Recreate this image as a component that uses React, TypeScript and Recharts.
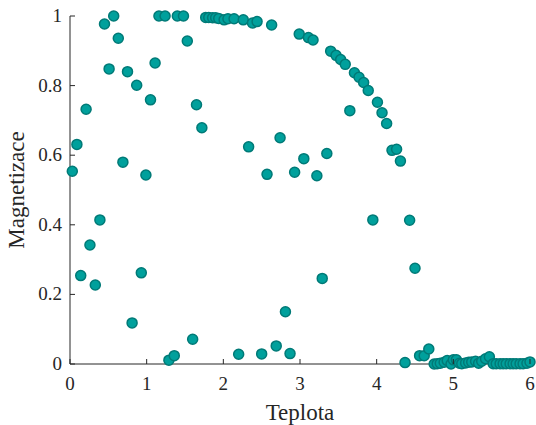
import { Scatter, ScatterChart, XAxis, YAxis } from "recharts";

const temperature = [
  0.03, 0.09, 0.14, 0.21, 0.26, 0.33, 0.39, 0.45, 0.51, 0.57, 0.63, 0.69, 0.75,
  0.81, 0.87, 0.93, 0.99, 1.05, 1.11, 1.16, 1.24, 1.29, 1.36, 1.4, 1.48, 1.53,
  1.6, 1.65, 1.72, 1.77, 1.81, 1.86, 1.9, 1.94, 2.01, 2.06, 2.14, 2.2, 2.26,
  2.33, 2.38, 2.44, 2.5, 2.57, 2.63, 2.69, 2.74, 2.81, 2.87, 2.93, 2.99, 3.05,
  3.11, 3.17, 3.22, 3.29, 3.35, 3.4, 3.47, 3.53, 3.59, 3.65, 3.71, 3.77, 3.83,
  3.89, 3.95, 4.01, 4.07, 4.13, 4.2, 4.26, 4.31, 4.37, 4.43, 4.5, 4.56, 4.62,
  4.68, 4.75, 4.79, 4.83, 4.88, 4.92, 4.97, 5.0, 5.04, 5.08, 5.11, 5.16, 5.2,
  5.24, 5.29, 5.33, 5.37, 5.42, 5.47, 5.52, 5.56, 5.61, 5.65, 5.69, 5.74, 5.78,
  5.82, 5.87, 5.91, 5.96, 6.0,
];

const magnetization = [
  0.554, 0.631, 0.254, 0.732, 0.342, 0.227, 0.414, 0.977, 0.848, 1.0, 0.936,
  0.58, 0.84, 0.118, 0.801, 0.262, 0.543, 0.759, 0.865, 1.0, 1.0, 0.011, 0.024,
  1.0, 1.0, 0.928, 0.071, 0.745, 0.679, 0.996, 0.996, 0.995, 0.995, 0.993,
  0.989, 0.992, 0.992, 0.028, 0.989, 0.624, 0.98, 0.984, 0.029, 0.545, 0.974,
  0.052, 0.65, 0.15, 0.03, 0.551, 0.948, 0.59, 0.938, 0.931, 0.541, 0.246,
  0.605, 0.899, 0.887, 0.875, 0.861, 0.728, 0.837, 0.824, 0.809, 0.786, 0.414,
  0.752, 0.722, 0.691, 0.614, 0.617, 0.583, 0.004, 0.413, 0.275, 0.024, 0.024,
  0.043, 0.0, 0.001, 0.002, 0.005, 0.01, 0.0, 0.012, 0.012, 0.002, 0.001,
  0.003, 0.005, 0.006, 0.008, 0.002, 0.008, 0.015, 0.021, 0.001, 0.001, 0.001,
  0.001, 0.001, 0.001, 0.001, 0.001, 0.001, 0.001, 0.002, 0.006,
];

const xTicks = [0, 1, 2, 3, 4, 5, 6];
const yTicks = [0, 0.2, 0.4, 0.6, 0.8, 1];

const data = temperature.map((t, i) => ({ t, m: magnetization[i] }));

const FONT = "'Liberation Serif', 'Times New Roman', serif";
const INK = "#262626";

function XTick({ x, y, payload }: any) {
  return (
    <g>
      <line x1={x} x2={x} y1={y} y2={y - 5} stroke={INK} />
      <text
        x={x}
        y={y + 26}
        textAnchor="middle"
        fill={INK}
        style={{ fontFamily: FONT, fontSize: 19 }}
      >
        {payload.value}
      </text>
    </g>
  );
}

function YTick({ x, y, payload }: any) {
  return (
    <g>
      <line x1={x} x2={x + 5} y1={y} y2={y} stroke={INK} />
      <text
        x={x - 8}
        y={y + 6}
        textAnchor="end"
        fill={INK}
        style={{ fontFamily: FONT, fontSize: 19 }}
      >
        {String(payload.value)}
      </text>
    </g>
  );
}

function Dot({ cx, cy }: any) {
  return <circle cx={cx} cy={cy} r={5} fill="#00a09c" stroke="#007a77" strokeWidth={1.5} />;
}

export default function App() {
  return (
    <div style={{ position: "fixed", left: 0, top: 0, background: "#fff" }}>
      <ScatterChart
        width={536}
        height={425}
        margin={{ top: 16, right: 6, bottom: 0, left: 0 }}
      >
        <XAxis
          type="number"
          dataKey="t"
          domain={[0, 6]}
          ticks={xTicks}
          height={61}
          tickSize={0}
          tickMargin={0}
          tickLine={false}
          tick={<XTick />}
          axisLine={{ stroke: INK }}
          label={{
            value: "Teplota",
            position: "insideBottom",
            offset: 5,
            fill: INK,
            fontSize: 23,
            fontFamily: FONT,
          }}
        />
        <YAxis
          type="number"
          dataKey="m"
          domain={[0, 1]}
          ticks={yTicks}
          width={70}
          tickSize={0}
          tickMargin={0}
          tickLine={false}
          tick={<YTick />}
          axisLine={{ stroke: INK }}
          label={{
            value: "Magnetizace",
            angle: -90,
            position: "insideLeft",
            offset: 16,
            fill: INK,
            fontSize: 23,
            fontFamily: FONT,
            style: { textAnchor: "middle" },
          }}
        />
        <Scatter data={data} shape={<Dot />} isAnimationActive={false} />
      </ScatterChart>
    </div>
  );
}
